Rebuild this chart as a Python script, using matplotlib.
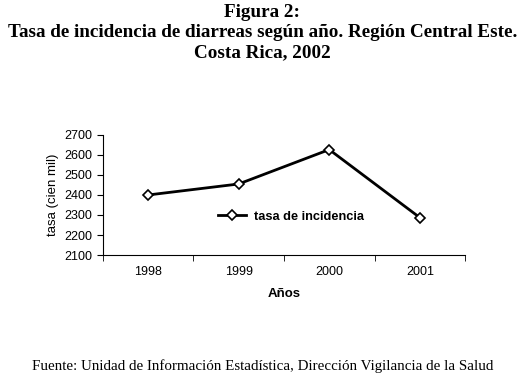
import matplotlib
matplotlib.use("Agg")
import matplotlib.pyplot as plt

years = ["1998", "1999", "2000", "2001"]
tasa = [2400, 2455, 2627, 2287]
y_ticks = [2100, 2200, 2300, 2400, 2500, 2600, 2700]

plt.rcParams["font.family"] = ["Liberation Sans", "DejaVu Sans"]

fig = plt.figure(figsize=(5.25, 3.76), dpi=100)
ax = fig.add_axes([0.1956, 0.3218, 0.6904, 0.3192])

x = range(len(years))
ax.plot(x, tasa, color="black", linewidth=2, marker="D", markersize=5.5,
        markerfacecolor="white", markeredgecolor="black", markeredgewidth=1.2,
        label="tasa de incidencia")

ax.set_xlim(-0.5, len(years) - 0.5)
ax.set_ylim(2100, 2700)
ax.set_yticks(y_ticks)
ax.set_xticks(list(x))
ax.set_xticklabels(years)
ax.set_xticks([i + 0.5 for i in range(-1, len(years))], minor=True)
ax.tick_params(axis="x", which="major", length=0, labelsize=9, pad=8)
ax.tick_params(axis="x", which="minor", length=4, direction="out")
ax.tick_params(axis="y", labelsize=9, length=4, direction="out")
for s in ("top", "right"):
    ax.spines[s].set_visible(False)

ax.set_ylabel("tasa (cien mil)", fontsize=9.5)
ax.set_xlabel("Años", fontsize=9.5, fontweight="bold", labelpad=7)

ax.legend(loc="center", bbox_to_anchor=(0.52, 0.32), frameon=False,
          prop={"size": 9.2, "weight": "bold"}, handlelength=2.2,
          handletextpad=0.6)

fig.text(0.5, 0.968, "Figura 2:", ha="center", va="center",
         family="Liberation Serif", fontweight="bold", fontsize=13.8)
fig.text(0.5, 0.914, "Tasa de incidencia de diarreas según año. Región Central Este.",
         ha="center", va="center", family="Liberation Serif",
         fontweight="bold", fontsize=13.8)
fig.text(0.5, 0.86, "Costa Rica, 2002", ha="center", va="center",
         family="Liberation Serif", fontweight="bold", fontsize=13.8)
fig.text(0.5, 0.027,
         "Fuente: Unidad de Información Estadística, Dirección Vigilancia de la Salud",
         ha="center", va="center", family="Liberation Serif", fontsize=10.8)

fig.savefig("out.png", dpi=100)
